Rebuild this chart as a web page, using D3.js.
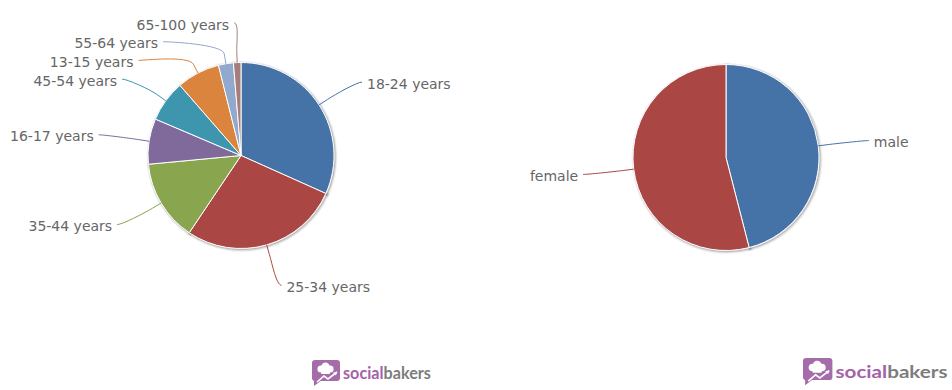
<!DOCTYPE html>
<html><head><meta charset="utf-8">
<script src="https://cdn.jsdelivr.net/npm/d3@7"></script>
<style>html,body{margin:0;padding:0;background:#fff;overflow:hidden}</style>
</head><body><svg id="chart" width="952" height="390"></svg>
<script>
// ---- data ----
const ageCategories = ["18-24 years","25-34 years","35-44 years","16-17 years","45-54 years","13-15 years","55-64 years","65-100 years"];
const ageValues = [31.7, 27.7, 14.1, 7.9, 7.2, 7.5, 2.6, 1.3];
const ageColors = ["#4572A7","#AA4643","#89A54E","#80699B","#3D96AE","#DB843D","#92A8CD","#A47D7C"];
const genderCategories = ["male","female"];
const genderValues = [46, 54];
const genderColors = ["#4572A7","#AA4643"];
const logoWords = ["social","bakers"];

const svg = d3.select("#chart");

function drawPie(o) {
  const g = svg.append("g").attr("transform", `translate(${o.cx},${o.cy})`);
  const arcs = d3.pie().sort(null).value(d => d)(o.values);
  const arc = d3.arc().innerRadius(0).outerRadius(o.r);
  // highcharts-like soft shadow
  const sh = g.append("g").attr("transform", "translate(1,1)");
  [1,2,3].forEach(i => {
    sh.append("g").selectAll("path").data(arcs).join("path")
      .attr("d", arc).attr("fill", "none").attr("stroke", "#000")
      .attr("stroke-opacity", 0.05 * i).attr("stroke-width", 7 - 2 * i);
  });
  g.append("g").selectAll("path").data(arcs).join("path")
    .attr("d", arc).attr("fill", (d, i) => o.colors[i])
    .attr("stroke", "#fff").attr("stroke-width", 1).attr("stroke-linejoin", "round");

  // label layout
  const Rx = o.r + 50, Ry = o.r + 42, spacing = 18.7;
  const items = arcs.map((d, i) => {
    const mid = (d.startAngle + d.endAngle) / 2;
    const ny = -Ry * Math.cos(mid);
    return { i, mid, side: Math.sin(mid) >= 0 ? 1 : -1, ny, y: ny };
  });
  [1, -1].forEach(s => {
    const list = items.filter(it => it.side === s).sort((a, b) => a.y - b.y);
    const topMin = o.labelTop - o.cy;
    list.forEach((it, k) => {
      let y = Math.max(it.y, topMin);
      if (k > 0) y = Math.max(y, list[k - 1].y + spacing);
      it.y = y;
    });
    list.forEach((it, k) => {
      // first and last slot use the natural x position
      const yy = (k === 0 || k === list.length - 1) ? it.ny : it.y;
      const t = Math.min(1, Math.abs(yy / Ry));
      it.ax = s * Rx * Math.sqrt(1 - t * t);
    });
  });
  const lg = g.append("g");
  items.forEach(it => {
    const s = it.side, mid = it.mid;
    const ex = o.r * Math.sin(mid), ey = -o.r * Math.cos(mid);
    const bx = (o.r + 10) * Math.sin(mid), by = -(o.r + 10) * Math.cos(mid);
    const p = d3.path();
    p.moveTo(it.ax + s * 1, it.y);
    p.bezierCurveTo(it.ax - s * 4, it.y, 2 * bx - ex, 2 * by - ey, bx, by);
    p.lineTo(ex, ey);
    lg.append("path").attr("d", p.toString()).attr("fill", "none")
      .attr("stroke", o.colors[it.i]).attr("stroke-width", 1);
    lg.append("text").attr("x", it.ax + s * 6).attr("y", it.y + 1.5).attr("dy", "0.36em")
      .attr("text-anchor", s > 0 ? "start" : "end")
      .attr("font-family", "'DejaVu Sans', Verdana, sans-serif").attr("font-size", 14)
      .attr("fill", "#666").text(o.labels[it.i]);
  });
}

function drawLogo(x, y, sc, textW) {
  const g = svg.append("g").attr("transform", `translate(${x},${y}) scale(${sc})`);
  g.append("rect").attr("x", 0).attr("y", 0).attr("width", 28).attr("height", 21).attr("rx", 3).attr("fill", "#a56ca9");
  g.append("path").attr("d", "M2,18 L2,26 L10,20 Z").attr("fill", "#a56ca9");
  const w = g.append("g").attr("fill", "#fff");
  w.append("circle").attr("cx", 9).attr("cy", 9).attr("r", 3.6);
  w.append("circle").attr("cx", 13.5).attr("cy", 6.8).attr("r", 4.2);
  w.append("circle").attr("cx", 18).attr("cy", 9).attr("r", 3.6);
  w.append("rect").attr("x", 9).attr("y", 9).attr("width", 9).attr("height", 5).attr("rx", 1);
  g.append("polyline").attr("points", "5,22 12,16 16,19 25,12").attr("fill", "none")
    .attr("stroke", "#fff").attr("stroke-width", 1.6);
  g.append("path").attr("d", "M25,12 L21,12.5 L24,15.5 Z").attr("fill", "#fff");
  const t = svg.append("text").attr("x", x + 31 * sc).attr("y", y + 13 * sc).attr("dy", "0.35em")
    .attr("font-family", "Lato, 'Open Sans', sans-serif").attr("font-weight", "bold")
    .attr("font-size", 17 * sc).attr("textLength", textW).attr("lengthAdjust", "spacingAndGlyphs");
  t.append("tspan").attr("fill", "#a462a8").text(logoWords[0]);
  t.append("tspan").attr("fill", "#7d7d7d").text(logoWords[1]);
}

drawPie({ cx: 241, cy: 155.5, r: 93, values: ageValues, labels: ageCategories, colors: ageColors, labelTop: 23 });
drawPie({ cx: 726, cy: 157.5, r: 93, values: genderValues, labels: genderCategories, colors: genderColors, labelTop: 23 });
drawLogo(312, 360, 1.0, 88);
drawLogo(803, 358, 1.05, 112);
</script>
</body></html>
